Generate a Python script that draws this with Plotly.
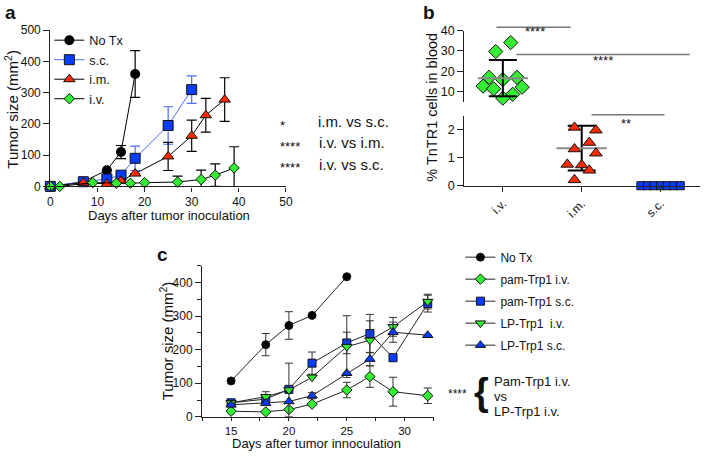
import plotly.graph_objects as go

# ---- panel a: tumour growth ----
days_notx = [0, 7, 12, 15, 18]
size_notx = [0, 15, 52, 110, 360]
err_notx = [0, 0, 0, 21, 75]

days_sc = [0, 7, 12, 15, 18, 25, 30]
size_sc = [0, 15, 24, 36, 90, 195, 310]
err_sc = [0, 0, 0, 0, 39, 60, 44]

days_im = [0, 7, 12, 15, 18, 25, 30, 33, 37]
size_im = [0, 12, 8, 18, 41, 96, 162, 228, 278]
err_im = [0, 0, 0, 0, 0, 45, 50, 54, 70]

days_iv = [0, 2, 9, 14, 17, 20, 27, 32, 35, 39]
size_iv = [0, 0, 12, 10, 10, 12, 14, 22, 36, 59]
err_iv = [0, 0, 0, 0, 0, 0, 19, 30, 36, 68]

# ---- panel b: % TnTR1 cells in blood ----
groups_b = ["i.v.", "i.m.", "s.c."]
pct_iv = [34.1, 29.7, 17.0, 17.0, 15.9, 12.7, 12.2, 11.4, 8.7, 6.8]
pct_im = [2.08, 1.98, 1.54, 1.31, 1.16, 0.76, 0.74, 0.55, 0.21]
pct_sc = [0, 0, 0, 0, 0, 0, 0]
mean_iv, sd_iv = 16.6, 8.9
mean_im, sd_im = 1.34, 0.80

# ---- panel c: second experiment ----
days_c = [15, 18, 20, 22, 25, 27, 29, 32]
days_c_notx = [15, 18, 20, 22, 25]
c_notx = [107, 215, 272, 302, 417]
c_notx_err = [0, 33, 41, 0, 0]
c_pam_iv = [17, 15, 22, 38, 80, 120, 75, 63]
c_pam_iv_err = [0, 0, 0, 0, 23, 32, 43, 23]
c_pam_sc = [42, 53, 82, 160, 220, 248, 176, 337]
c_pam_sc_err = [0, 0, 0, 33, 32, 57, 0, 25]
c_lp_iv = [42, 60, 80, 118, 209, 228, 268, 343]
c_lp_iv_err = [0, 15, 80, 0, 92, 58, 28, 22]
c_lp_sc = [36, 41, 46, 63, 130, 172, 252, 243]
c_lp_sc_err = [0, 0, 0, 9, 0, 20, 30, 0]

W, H = 708, 463
FONT = "Liberation Sans, Arial, sans-serif"
GREEN = "#33ee33"
BLUE = "#0a3cff"
RED = "#ff2a00"
SCBLUE = "#4a6cf7"

# horizontal scatter of the dots in panel b (layout only)
jit_iv = [0.10, -0.09, -0.175, 0.18, 0.0, -0.25, 0.245, -0.117, 0.125, 0.0]
jit_im = [-0.092, 0.18, 0.096, -0.092, 0.18, -0.183, 0.0, 0.096, -0.092]
jit_sc = [-0.25, -0.167, -0.083, 0.0, 0.083, 0.167, 0.25]


def px(x, y):
    # pixel -> paper fraction
    return x / W, 1 - y / H


def eb(arr, color="black", w=5):
    return dict(type="data", array=arr, color=color, thickness=1.2, width=w)


fig = go.Figure()

# panel a
fig.add_trace(go.Scatter(x=days_notx, y=size_notx, name="No Tx", mode="lines+markers",
                         line=dict(color="black", width=1),
                         marker=dict(symbol="circle", size=10, color="black"),
                         error_y=eb(err_notx), cliponaxis=False, legend="legend"))
fig.add_trace(go.Scatter(x=days_sc, y=size_sc, name="s.c.", mode="lines+markers",
                         line=dict(color=SCBLUE, width=1),
                         marker=dict(symbol="square", size=10, color=BLUE,
                                     line=dict(color="#111", width=1)),
                         error_y=eb(err_sc, SCBLUE), cliponaxis=False, legend="legend"))
fig.add_trace(go.Scatter(x=days_im, y=size_im, name="i.m.", mode="lines+markers",
                         line=dict(color="black", width=1),
                         marker=dict(symbol="triangle-up", size=10, color=RED,
                                     line=dict(color="#111", width=1)),
                         error_y=eb(err_im), cliponaxis=False, legend="legend"))
fig.add_trace(go.Scatter(x=days_iv, y=size_iv, name="i.v.", mode="lines+markers",
                         line=dict(color="black", width=1),
                         marker=dict(symbol="diamond", size=8, color=GREEN,
                                     line=dict(color="#111", width=1)),
                         error_y=eb(err_iv), cliponaxis=False, legend="legend"))

# panel b
fig.add_trace(go.Scatter(x=[0 + j for j in jit_iv], y=pct_iv, mode="markers", xaxis="x2", yaxis="y3",
                         marker=dict(symbol="diamond", size=11, color=GREEN,
                                     line=dict(color="#111", width=1)),
                         showlegend=False, cliponaxis=False))
fig.add_trace(go.Scatter(x=[0], y=[mean_iv], mode="markers", xaxis="x2", yaxis="y3",
                         marker=dict(symbol="line-ew-open", size=36, color="#8a8a8a",
                                     line=dict(color="#8a8a8a", width=2)),
                         error_y=dict(type="data", array=[sd_iv], color="black", thickness=2, width=14),
                         showlegend=False, cliponaxis=False))
fig.add_trace(go.Scatter(x=[1], y=[mean_im], mode="markers", xaxis="x2", yaxis="y2",
                         marker=dict(symbol="line-ew-open", size=36, color="#8a8a8a",
                                     line=dict(color="#8a8a8a", width=2)),
                         error_y=dict(type="data", array=[sd_im], color="black", thickness=2, width=14),
                         showlegend=False, cliponaxis=False))
fig.add_trace(go.Scatter(x=[1 + j for j in jit_im], y=pct_im, mode="markers", xaxis="x2", yaxis="y2",
                         marker=dict(symbol="triangle-up", size=11, color=RED,
                                     line=dict(color="#111", width=1)),
                         showlegend=False, cliponaxis=False))
fig.add_trace(go.Scatter(x=[2 + j for j in jit_sc], y=pct_sc, mode="markers", xaxis="x2", yaxis="y2",
                         marker=dict(symbol="square", size=8, color=BLUE,
                                     line=dict(color="#111", width=1)),
                         showlegend=False, cliponaxis=False))

# panel c
c_series = [
    ("No Tx", days_c_notx, c_notx, c_notx_err, "circle", 8, "black"),
    ("pam-Trp1 i.v.", days_c, c_pam_iv, c_pam_iv_err, "diamond", 8, GREEN),
    ("pam-Trp1 s.c.", days_c, c_pam_sc, c_pam_sc_err, "square", 8, BLUE),
    ("LP-Trp1  i.v.", days_c, c_lp_iv, c_lp_iv_err, "triangle-down", 9, GREEN),
    ("LP-Trp1 s.c.", days_c, c_lp_sc, c_lp_sc_err, "triangle-up", 9, BLUE),
]
for name, xs, ys, es, sym, sz, col in c_series:
    fig.add_trace(go.Scatter(x=xs, y=ys, name=name, mode="lines+markers",
                             xaxis="x3", yaxis="y4", legend="legend2", legendgroup=name,
                             line=dict(color="#222", width=1),
                             marker=dict(symbol=sym, size=sz, color=col,
                                         line=dict(color="#111", width=1)),
                             error_y=dict(type="data", array=es, color="#333", thickness=1, width=4),
                             cliponaxis=False))

ax = dict(showline=True, linecolor="#222", linewidth=1.3, ticks="outside", ticklen=6,
          tickwidth=1.3, tickcolor="#222", showgrid=False, zeroline=False,
          tickfont=dict(family=FONT, size=12, color="#111"))

xa0, ya0 = px(48, 185)
xa1, ya1 = px(287, 24)
xb0, yb0 = px(468, 184.3)
xb1, yb1 = px(707, 112)
_, yt0 = px(0, 97.8)
_, yt1 = px(0, 24.3)
xc0, yc0 = px(202, 422.7)
xc1, yc1 = px(436.7, 266.7)

fig.update_layout(
    width=W, height=H, margin=dict(l=0, r=0, t=0, b=0),
    paper_bgcolor="white", plot_bgcolor="white",
    font=dict(family=FONT, color="#111"),
    xaxis=dict(ax, domain=[xa0, xa1], range=[0, 50], tickvals=[0, 10, 20, 30, 40, 50], anchor="y",
               ticklen=4),
    yaxis=dict(ax, domain=[ya0, ya1], range=[0, 500], tickvals=[0, 100, 200, 300, 400, 500], anchor="x"),
    xaxis2=dict(ax, domain=[xb0, xb1], range=[-0.4875, 2.5], tickvals=[0, 1, 2], ticktext=groups_b,
                tickangle=-45, anchor="y2", ticklen=5),
    yaxis2=dict(ax, domain=[yb0, yb1], range=[0, 2.5], tickvals=[0, 1, 2], anchor="x2",
                tickfont=dict(family=FONT, size=12.5, color="#111")),
    yaxis3=dict(ax, domain=[yt0, yt1], range=[5, 40], tickvals=[10, 20, 30, 40], anchor="x2",
                tickfont=dict(family=FONT, size=12.5, color="#111")),
    xaxis3=dict(ax, domain=[xc0, xc1], range=[12.5, 32.5], tickvals=[15, 20, 25, 30], anchor="y4",
                ticklen=3, tickfont=dict(family=FONT, size=11.5, color="#111"),
                minor=dict(dtick=2.5, tick0=15, ticks="outside", ticklen=3, tickwidth=1.2, tickcolor="#222")),
    yaxis4=dict(ax, domain=[yc0, yc1], range=[0, 450], tickvals=[0, 100, 200, 300, 400], anchor="x3",
                minor=dict(dtick=50, tick0=0, ticks="outside", ticklen=4, tickwidth=1.2, tickcolor="#222")),
    legend=dict(x=px(47, 0)[0], y=px(0, 19)[1], xanchor="left", yanchor="top",
                bgcolor="rgba(0,0,0,0)", font=dict(family=FONT, size=12.7, color="#111"),
                itemsizing="trace"),
    legend2=dict(x=px(464, 0)[0], y=px(0, 243)[1], xanchor="left", yanchor="top",
                 bgcolor="rgba(0,0,0,0)", font=dict(family=FONT, size=12, color="#111"),
                 traceorder="grouped", tracegroupgap=3, itemsizing="trace"),
)


def note(x, y, text, size=13, xanchor="center", angle=0, bold=False):
    xx, yy = px(x, y)
    fig.add_annotation(x=xx, y=yy, xref="paper", yref="paper", text=f"<b>{text}</b>" if bold else text,
                       showarrow=False, xanchor=xanchor, yanchor="middle", textangle=angle,
                       font=dict(family=FONT, size=size, color="#111"))


# panel letters
note(0, 6, "a", 19, "left", bold=True)
note(424, 6, "b", 19, "left", bold=True)
note(154, 255, "c", 19, "left", bold=True)

# axis titles
note(168, 215, "Days after tumor inoculation", 13)
note(9, 105, "Tumor size (mm<sup>2</sup>)", 15, angle=-90)
note(435, 103, "% TnTR1 cells in blood", 14.5, angle=-90)
note(318, 450, "Days after tumor innoculation", 13)
note(166, 344, "Tumor size (mm<sup>2</sup>)", 15, angle=-90)

# panel a statistics
note(283, 122, "*", 13)
note(317, 118, "i.m. vs s.c.", 15, "left")
note(291, 144, "****", 13)
note(318, 140, "i.v. vs i.m.", 15, "left")
note(291, 166, "****", 13)
note(319, 162, "i.v. vs s.c.", 15, "left")

# panel b significance bars
for c0, c1, ypx in [(-0.08, 0.86, 21), (0.17, 2.37, 49), (1.125, 2.05, 111)]:
    yy = px(0, ypx)[1]
    fig.add_shape(type="line", xref="x2", yref="paper", x0=c0, x1=c1, y0=yy, y1=yy,
                  line=dict(color="#777", width=1.5))
for cx, ypx, stars in [(0.41, 15.5, "****"), (1.275, 45.5, "****"), (1.5625, 110, "**")]:
    fig.add_annotation(x=cx, y=px(0, ypx)[1], xref="x2", yref="paper", text=stars, showarrow=False,
                       font=dict(family=FONT, size=13, color="#111"))

# panel c statistics
note(461, 399.5, "****", 12)
note(485, 397, "<b>{</b>", 38)
note(496, 386, "Pam-Trp1 i.v.", 13, "left")
note(496, 402, "vs", 13, "left")
note(496, 417, "LP-Trp1 i.v.", 13, "left")

fig.write_html("out.html", config={"displayModeBar": False},
               post_script="document.body.style.margin='0';")
